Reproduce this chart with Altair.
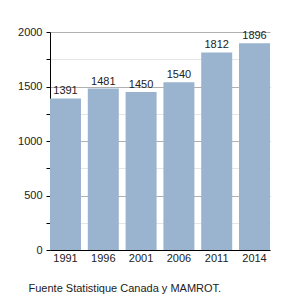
import altair as alt
import pandas as pd

years = ["1991", "1996", "2001", "2006", "2011", "2014"]
values = [1391, 1481, 1450, 1540, 1812, 1896]

df = pd.DataFrame({"year": years, "value": values})

base = alt.Chart(df).encode(
    x=alt.X("year:N", sort=years, title=None,
            scale=alt.Scale(paddingInner=0.18, paddingOuter=0),
            axis=alt.Axis(labelAngle=0, ticks=False, domainColor="#000000",
                          labelFontSize=11, labelColor="#222", labelPadding=2,
                          labelFont="Liberation Sans")),
    y=alt.Y("value:Q", title=None,
            scale=alt.Scale(domain=[0, 2000], nice=False),
            axis=alt.Axis(values=list(range(0, 2001, 250)),
                          labelExpr="datum.value % 500 == 0 ? datum.label : ''",
                          format="d",
                          domainColor="#000000", tickColor="#000000", tickSize=4,
                          labelFontSize=11, labelColor="#222", labelPadding=4,
                          labelFont="Liberation Sans",
                          gridColor={"condition": {"test": "datum.value % 500 == 0", "value": "#b0b0b0"}, "value": "#e6e6e6"})),
)

bars = base.mark_bar(color="#9ab4cf")
labels = base.mark_text(dy=-7, fontSize=11, color="#222", font="Liberation Sans").encode(text="value:Q")

chart = (bars + labels).properties(
    width=220, height=218,
    autosize=alt.AutoSizeParams(type="none"),
    padding={"left": 50, "top": 32, "right": 30, "bottom": 50},
    title=alt.TitleParams("Fuente Statistique Canada y MAMROT.", orient="bottom", anchor="start",
                          fontSize=11, fontWeight="normal", font="Liberation Sans", color="#222",
                          dx=11, offset=20),
).configure_view(stroke=None)

chart.save("out.html", embed_options={"renderer": "svg", "actions": False})
